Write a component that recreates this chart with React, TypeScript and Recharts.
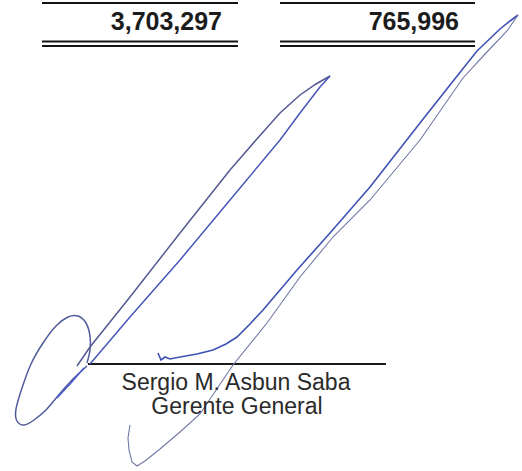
import { ComposedChart, Line, Scatter, XAxis, YAxis } from 'recharts';

// amounts at the foot of the two columns
const amounts = ['3,703,297', '765,996'];
const signer = ['Sergio M. Asbun Saba', 'Gerente General'];

// horizontal rules, page coordinates (x from left, y from top)
const ruleTopLeft = [{ x: 42, y: 3 }, { x: 238, y: 3 }];
const ruleTopRight = [{ x: 280, y: 3 }, { x: 475, y: 3 }];
const ruleDblLeftA = [{ x: 42, y: 41.5 }, { x: 238, y: 41.5 }];
const ruleDblLeftB = [{ x: 42, y: 46 }, { x: 238, y: 46 }];
const ruleDblRightA = [{ x: 280, y: 41.5 }, { x: 475, y: 41.5 }];
const ruleDblRightB = [{ x: 280, y: 46 }, { x: 475, y: 46 }];
const signLine = [{ x: 88, y: 364 }, { x: 386, y: 364 }];

// signature strokes
const loopStroke = [
  { x: 87, y: 363 }, { x: 90, y: 350 }, { x: 90, y: 336 }, { x: 86, y: 323 },
  { x: 78, y: 316 }, { x: 68, y: 317 }, { x: 56, y: 326 }, { x: 43, y: 343 },
  { x: 31, y: 364 }, { x: 22, y: 388 }, { x: 16, y: 409 }, { x: 17, y: 421 },
  { x: 24, y: 425 }, { x: 34, y: 420 }, { x: 46, y: 410 }, { x: 57, y: 397 },
  { x: 72, y: 380 }, { x: 87, y: 366 },
];
const upperDiag = [
  { x: 77, y: 366 }, { x: 90, y: 347 }, { x: 130, y: 297 }, { x: 180, y: 233 },
  { x: 230, y: 170 }, { x: 256, y: 140 }, { x: 280, y: 113 }, { x: 300, y: 95 },
  { x: 316, y: 84 }, { x: 330, y: 76 },
];
const lowerDiag = [
  { x: 330, y: 76 }, { x: 320, y: 87 }, { x: 300, y: 113 }, { x: 280, y: 140 },
  { x: 230, y: 200 }, { x: 180, y: 260 }, { x: 130, y: 317 }, { x: 90, y: 364 },
];
const tailStroke = [
  { x: 57, y: 398 }, { x: 70, y: 384 }, { x: 84, y: 368 },
];
const hookStroke = [
  { x: 158, y: 353 }, { x: 161, y: 360 }, { x: 165, y: 357 }, { x: 170, y: 359 },
  { x: 180, y: 357 }, { x: 197, y: 354 }, { x: 213, y: 350 }, { x: 226, y: 344 },
  { x: 237, y: 337 }, { x: 250, y: 324 }, { x: 263, y: 310 }, { x: 297, y: 270 },
  { x: 330, y: 233 }, { x: 370, y: 187 }, { x: 420, y: 123 }, { x: 450, y: 85 },
  { x: 477, y: 51 }, { x: 500, y: 29 }, { x: 510, y: 21 }, { x: 518, y: 15 },
];
const crossStroke = [
  { x: 518, y: 15 }, { x: 507, y: 31 }, { x: 486, y: 53 }, { x: 463, y: 78 },
  { x: 420, y: 140 }, { x: 370, y: 200 }, { x: 333, y: 237 }, { x: 300, y: 277 },
  { x: 267, y: 323 }, { x: 233, y: 365 }, { x: 200, y: 414 }, { x: 180, y: 432 },
  { x: 160, y: 449 }, { x: 145, y: 461 }, { x: 137, y: 466 }, { x: 132, y: 462 },
  { x: 129, y: 450 }, { x: 128, y: 438 }, { x: 130, y: 425 },
];

// anchor points for the texts
const amountSpots = [
  { x: 222, y: 30, text: amounts[0] },
  { x: 459, y: 30, text: amounts[1] },
];
const signerSpots = [
  { x: 236, y: 390, text: signer[0] },
  { x: 237, y: 414, text: signer[1] },
];

const font = '"Liberation Sans", Arial, sans-serif';

const AmountText = (props: any) => (
  <text x={props.cx} y={props.cy} textAnchor="end" fontFamily={font} fontSize={25} fontWeight="bold" fill="#1c1c1c">
    {props.payload.text}
  </text>
);

const SignerText = (props: any) => (
  <text x={props.cx} y={props.cy} textAnchor="middle" fontFamily={font} fontSize={23} fill="#2a2a2a">
    {props.payload.text}
  </text>
);

const rules = [ruleTopLeft, ruleTopRight, ruleDblLeftA, ruleDblLeftB, ruleDblRightA, ruleDblRightB];

export default function App() {
  return (
    <div style={{ position: 'absolute', left: 0, top: 0, background: '#fff' }}>
      <ComposedChart width={522} height={471} margin={{ top: 0, right: 0, bottom: 0, left: 0 }}>
        <XAxis type="number" dataKey="x" domain={[0, 522]} hide allowDataOverflow />
        <YAxis type="number" dataKey="y" domain={[0, 471]} reversed hide allowDataOverflow />
        {rules.map((r, i) => (
          <Line key={'r' + i} data={r} dataKey="y" type="linear" stroke="#141414" strokeWidth={2} dot={false} activeDot={false} isAnimationActive={false} />
        ))}
        <Line data={signLine} dataKey="y" type="linear" stroke="#1a1a1a" strokeWidth={1.8} dot={false} activeDot={false} isAnimationActive={false} />
        <Line data={loopStroke} dataKey="y" type="natural" stroke="#505c9c" strokeWidth={1.5} dot={false} activeDot={false} isAnimationActive={false} />
        <Line data={upperDiag} dataKey="y" type="linear" stroke="#535a92" strokeWidth={1.5} dot={false} activeDot={false} isAnimationActive={false} />
        <Line data={lowerDiag} dataKey="y" type="linear" stroke="#4756b8" strokeWidth={1.5} dot={false} activeDot={false} isAnimationActive={false} />
        <Line data={tailStroke} dataKey="y" type="linear" stroke="#4a5ad0" strokeWidth={1.5} dot={false} activeDot={false} isAnimationActive={false} />
        <Line data={hookStroke} dataKey="y" type="linear" stroke="#3f52b4" strokeWidth={1.6} dot={false} activeDot={false} isAnimationActive={false} />
        <Line data={crossStroke} dataKey="y" type="linear" stroke="#7078a4" strokeWidth={1.1} dot={false} activeDot={false} isAnimationActive={false} />
        <Scatter data={amountSpots} shape={AmountText} isAnimationActive={false} />
        <Scatter data={signerSpots} shape={SignerText} isAnimationActive={false} />
      </ComposedChart>
    </div>
  );
}
